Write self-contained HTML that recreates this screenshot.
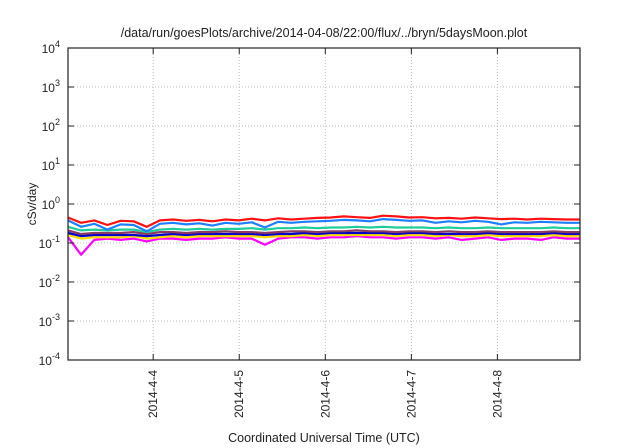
<!DOCTYPE html>
<html><head><meta charset="utf-8"><style>
body{margin:0;background:#fff;}
svg{display:block;font-family:"Liberation Sans",sans-serif;}
</style></head><body>
<svg id="chart" width="640" height="448" viewBox="0 0 640 448">
<text x="324" y="37" font-size="12.5" text-anchor="middle" fill="#222">/data/run/goesPlots/archive/2014-04-08/22:00/flux/../bryn/5daysMoon.plot</text>
<g id="grid"></g><g id="series"></g><g id="axes"></g>
<text transform="translate(36,204) rotate(-90)" font-size="12" text-anchor="middle" fill="#222">cSv/day</text>
<text x="324" y="442" font-size="12.5" text-anchor="middle" fill="#222">Coordinated Universal Time (UTC)</text>
</svg>
<script>
const xTickLabels=["2014-4-4","2014-4-5","2014-4-6","2014-4-7","2014-4-8"];
const xTickDays=[1,2,3,4,5];
const yTickExps=[-4,-3,-2,-1,0,1,2,3,4];
const seriesColors=["#ff00ff","#ffdd00","#0000cc","#8b3a62","#22cc99","#1e7fff","#ff1111"];
const magenta=[0.14,0.05,0.12,0.13,0.12,0.13,0.11,0.13,0.13,0.12,0.13,0.13,0.14,0.13,0.13,0.09,0.13,0.14,0.14,0.13,0.14,0.14,0.15,0.14,0.14,0.13,0.14,0.14,0.13,0.14,0.12,0.13,0.14,0.12,0.13,0.13,0.12,0.14,0.13,0.13];
const yellow=[0.16,0.13,0.14,0.14,0.14,0.15,0.13,0.14,0.15,0.14,0.15,0.15,0.15,0.15,0.15,0.14,0.15,0.15,0.16,0.15,0.16,0.16,0.16,0.16,0.16,0.15,0.16,0.16,0.15,0.16,0.15,0.15,0.16,0.15,0.15,0.15,0.15,0.16,0.15,0.15];
const darkblue=[0.18,0.15,0.16,0.16,0.16,0.16,0.15,0.16,0.17,0.16,0.17,0.17,0.17,0.17,0.17,0.16,0.17,0.17,0.18,0.17,0.18,0.18,0.18,0.18,0.18,0.17,0.18,0.18,0.17,0.17,0.17,0.17,0.18,0.17,0.17,0.17,0.17,0.18,0.17,0.17];
const purple=[0.21,0.17,0.18,0.18,0.18,0.19,0.17,0.19,0.19,0.18,0.19,0.19,0.20,0.19,0.19,0.18,0.19,0.20,0.20,0.19,0.20,0.20,0.21,0.20,0.20,0.19,0.20,0.20,0.19,0.20,0.19,0.19,0.20,0.19,0.19,0.19,0.19,0.20,0.19,0.19];
const green=[0.26,0.21,0.22,0.21,0.22,0.22,0.19,0.22,0.23,0.22,0.23,0.22,0.23,0.23,0.24,0.22,0.24,0.24,0.25,0.24,0.25,0.25,0.26,0.25,0.26,0.25,0.25,0.25,0.24,0.25,0.24,0.24,0.25,0.24,0.24,0.24,0.24,0.25,0.24,0.24];
const blue=[0.38,0.26,0.31,0.22,0.30,0.29,0.20,0.31,0.33,0.30,0.32,0.28,0.33,0.31,0.34,0.25,0.35,0.33,0.35,0.36,0.37,0.39,0.38,0.36,0.41,0.39,0.37,0.38,0.33,0.36,0.34,0.37,0.35,0.30,0.34,0.33,0.35,0.34,0.33,0.33];
const red=[0.45,0.33,0.38,0.29,0.37,0.36,0.26,0.38,0.40,0.37,0.39,0.36,0.40,0.38,0.42,0.38,0.43,0.40,0.42,0.44,0.45,0.48,0.46,0.44,0.50,0.48,0.45,0.46,0.43,0.44,0.42,0.45,0.43,0.41,0.42,0.40,0.42,0.41,0.40,0.40];
const allSeries=[magenta,yellow,darkblue,purple,green,blue,red];
const seriesNames=["series-magenta","series-yellow","series-darkblue","series-purple","series-green","series-blue","series-red"];
const L=68,R=580,T=48,B=360,dayStart=0.01,dayEnd=5.96;
const NS="http://www.w3.org/2000/svg";
function xs(d){return L+(d-dayStart)/(dayEnd-dayStart)*(R-L);}
function ys(v){return B-(Math.log10(v)+4)/8*(B-T);}
function mk(tag,attrs,parent){const e=document.createElementNS(NS,tag);for(const k in attrs)e.setAttribute(k,attrs[k]);parent.appendChild(e);return e;}
const grid=document.getElementById('grid'),axes=document.getElementById('axes'),ser=document.getElementById('series');
yTickExps.forEach(p=>{const y=ys(Math.pow(10,p));
 if(p>-4&&p<4){const g=mk('line',{x1:L,x2:R,y1:y,y2:y,stroke:'#bbb','stroke-dasharray':'1,2','stroke-width':1},grid);
 
 }
 mk('line',{x1:L,x2:L+6,y1:y,y2:y,stroke:'#222'},axes);mk('line',{x1:R,x2:R-6,y1:y,y2:y,stroke:'#222'},axes);
 const t=mk('text',{x:L-8,y:y+5,'font-size':12,'text-anchor':'end',fill:'#222'},axes);
 
 
 t.textContent='10';const s=mk('tspan',{dy:-6,'font-size':9},t);s.textContent=String(p);});
xTickDays.forEach((d,i)=>{const x=xs(d);
 const g=mk('line',{x1:x,x2:x,y1:T,y2:B,stroke:'#bbb','stroke-dasharray':'1,2'},grid);
 
 
 mk('line',{x1:x,x2:x,y1:B,y2:B-6,stroke:'#222'},axes);mk('line',{x1:x,x2:x,y1:T,y2:T+6,stroke:'#222'},axes);
 const t=mk('text',{transform:`translate(${x+4},${B+10}) rotate(-90)`,'font-size':12,'text-anchor':'end',fill:'#222'},axes);
 
 
 t.textContent=xTickLabels[i];});
const frame=mk('rect',{x:L,y:T,width:R-L,height:B-T,fill:'none',stroke:'#222','stroke-width':1.2},axes);


allSeries.forEach((arr,si)=>{const n=arr.length;
 const pts=arr.map((v,i)=>xs(dayStart+i*(dayEnd-dayStart)/(n-1)).toFixed(1)+','+ys(v).toFixed(1)).join(' ');
 const pl=mk('polyline',{points:pts,fill:'none',stroke:seriesColors[si],'stroke-width':2.2,'stroke-linejoin':'round'},ser);
 
 });
</script>
</body></html>
